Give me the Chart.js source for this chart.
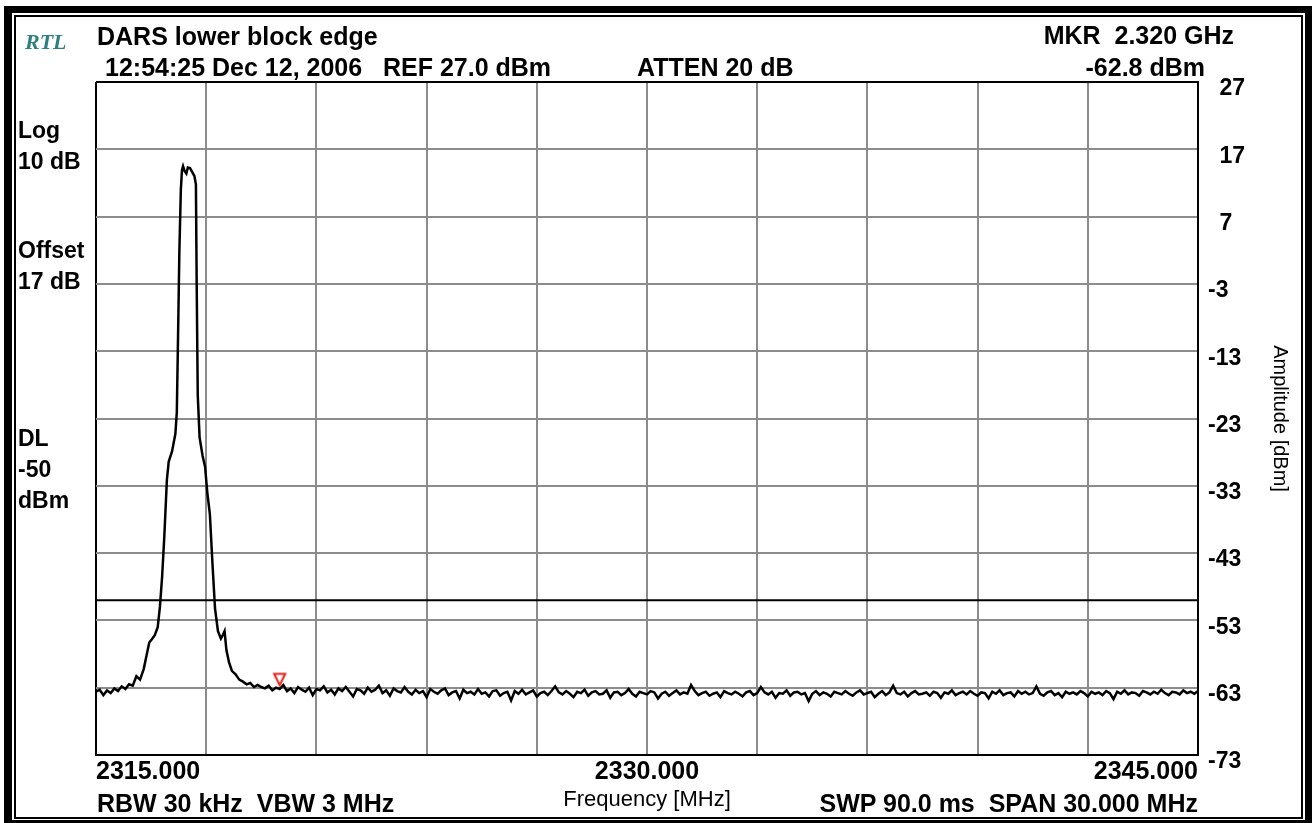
<!DOCTYPE html>
<html>
<head>
<meta charset="utf-8">
<title>DARS lower block edge</title>
<script src="https://cdn.jsdelivr.net/npm/chart.js@4.4.1/dist/chart.umd.min.js"></script>
<style>
    body { margin: 0; background: #fff; }
    #wrap {
        position: relative;
        width: 1312px;
        height: 823px;
        overflow: hidden;
        font-family: "Liberation Sans", Arial, sans-serif;
        color: #000;
    }
    #wrap canvas { position: absolute; left: 0; top: 0; }
    .txt {
        position: absolute;
        font-weight: bold;
        font-size: 25px;
        line-height: 25px;
        white-space: pre;
    }
    .side { font-size: 23px; line-height: 23px; left: 18px; }
    .rtl {
        position: absolute;
        left: 25px;
        top: 31px;
        font-family: "Liberation Serif", serif;
        font-style: italic;
        font-weight: bold;
        font-size: 22px;
        line-height: 22px;
        color: #2e7f80;
    }
    .frame { position: absolute; border-style: solid; border-color: #000; pointer-events: none; }
</style>
</head>
<body>
<div id="wrap">
    <canvas id="spectrum" width="1312" height="823"></canvas>

    <div class="rtl">RTL</div>
    <div class="txt" style="left:97px; top:24px;">DARS lower block edge</div>
    <div class="txt" style="left:105px; top:55px;">12:54:25 Dec 12, 2006   REF 27.0 dBm</div>
    <div class="txt" style="left:637px; top:55px;">ATTEN 20 dB</div>
    <div class="txt" style="right:78px; top:23px;">MKR  2.320 GHz</div>
    <div class="txt" style="right:107px; top:55px;">-62.8 dBm</div>

    <div class="txt side" style="top:119px;">Log</div>
    <div class="txt side" style="top:150px;">10 dB</div>
    <div class="txt side" style="top:239px;">Offset</div>
    <div class="txt side" style="top:270px;">17 dB</div>
    <div class="txt side" style="top:427px;">DL</div>
    <div class="txt side" style="top:458px;">-50</div>
    <div class="txt side" style="top:489px;">dBm</div>

    <div class="txt" style="left:97px; top:791px;">RBW 30 kHz  VBW 3 MHz</div>
    <div class="txt" style="right:114px; top:791px;">SWP 90.0 ms  SPAN 30.000 MHz</div>

    <div class="frame" style="left:4px; top:6px; right:0; bottom:0; border-width:7px 7px 3px 8px;"></div>
    <div class="frame" style="left:14px; top:15px; right:9px; bottom:4px; border-width:2px;"></div>
</div>
<script>
// sweep settings
const FREQ_START = 2315;
const FREQ_STOP = 2345;
const FREQ_STEP = 3;
const LEVEL_MIN = -73;
const LEVEL_MAX = 27;
const LEVEL_STEP = 10;
const X_TICK_LABELS = [2315, 2330, 2345];

// carrier region, read point by point (MHz / dBm)
const peakFreq = [
    2315.0, 2315.1, 2315.2, 2315.3, 2315.4, 2315.5, 2315.6, 2315.7, 2315.8, 2315.9,
    2316.0, 2316.1, 2316.2, 2316.3, 2316.38, 2316.45, 2316.52, 2316.6, 2316.68, 2316.74,
    2316.8, 2316.86, 2316.93, 2316.98, 2317.07, 2317.16, 2317.2, 2317.23, 2317.27, 2317.31,
    2317.34, 2317.37, 2317.41, 2317.46, 2317.5, 2317.56, 2317.62, 2317.68, 2317.72, 2317.74,
    2317.77, 2317.82, 2317.9, 2317.97, 2318.03, 2318.1, 2318.17, 2318.24, 2318.32, 2318.4,
    2318.46, 2318.5, 2318.55, 2318.62, 2318.7, 2318.8, 2318.9, 2319.0, 2319.1, 2319.2,
    2319.3, 2319.4
];
const peakLevel = [
    -63.6, -63.3, -64.1, -63.4, -63.8, -63.1, -63.5, -62.8, -63.2, -62.5,
    -62.7, -61.3, -61.8, -60.2, -58.1, -56.3, -55.8, -55.2, -54.0, -51.0,
    -46.5, -40.5, -32.1, -29.4, -27.9, -25.3, -22.1, -12.0, 2.0, 11.0,
    13.9, 14.5, 13.8, 13.4, 14.3, 14.2, 13.6, 13.0, 11.8, -2.5,
    -19.5, -25.8, -28.5, -30.2, -34.0, -37.2, -44.5, -51.2, -54.6, -55.7,
    -55.1, -54.6, -57.4, -59.2, -60.5, -61.0, -61.8, -62.1, -62.5, -62.3,
    -62.9, -62.6
];

// noise floor from 2319.5 MHz in 0.1 MHz steps (dBm)
const FLOOR_START = 2319.5;
const FLOOR_STEP = 0.1;
const floorLevel = [
    -62.9, -63.1, -62.7, -63.4, -63.0, -63.2, -62.6, -63.5, -63.1, -63.8, -62.9, -63.3, -63.6, -63.0, -64.1, -63.2,
    -63.4, -62.8, -63.7, -63.3, -64.0, -63.1, -63.5, -62.9, -63.6, -64.3, -63.2, -63.4, -63.9, -63.0, -63.6, -63.3,
    -62.7, -63.8, -63.4, -64.2, -63.1, -63.5, -63.7, -62.9, -63.6, -64.0, -63.3, -63.8, -63.5, -64.4, -63.2, -63.6,
    -63.9, -63.4, -63.1, -64.1, -63.7, -63.5, -64.6, -63.3, -63.8, -63.6, -64.0, -63.2, -63.9, -63.7, -64.3, -63.5,
    -63.4, -64.2, -63.8, -63.6, -64.9, -63.5, -63.9, -63.3, -64.0, -63.7, -63.4, -64.3, -63.8, -63.6, -64.1, -63.5,
    -62.8, -63.7, -64.0, -63.5, -63.9, -64.4, -63.6, -63.8, -63.3, -64.2, -63.7, -63.5, -64.0, -63.9, -63.4, -64.5,
    -63.7, -63.6, -64.1, -63.8, -63.2, -63.9, -64.3, -63.6, -63.8, -64.0, -63.5, -63.7, -64.6, -63.9, -63.6, -64.2,
    -63.8, -63.4, -64.0, -63.7, -63.9, -62.6, -63.5, -64.1, -63.8, -63.6, -64.2, -63.9, -63.7, -64.4, -63.5, -63.8,
    -64.0, -63.6, -63.9, -64.3, -63.7, -63.5, -64.1, -63.8, -62.9, -63.7, -64.0, -63.6, -64.5, -63.8, -63.9, -63.4,
    -64.2, -63.7, -63.6, -64.0, -63.8, -65.0, -63.9, -63.5, -64.1, -63.7, -63.9, -64.3, -63.6, -63.8, -64.0, -63.5,
    -63.9, -64.2, -63.7, -63.4, -64.0, -63.8, -63.6, -64.4, -63.9, -63.5, -64.1, -63.7, -62.7, -63.8, -64.0, -63.6,
    -64.3, -63.8, -63.5, -64.0, -63.9, -63.7, -64.2, -63.6, -63.8, -64.5, -63.7, -63.9, -63.4, -64.1, -63.8, -63.6,
    -64.0, -63.5, -63.9, -64.2, -63.7, -63.8, -64.6, -63.6, -63.9, -63.4, -64.1, -63.8, -63.7, -64.3, -63.5, -63.9,
    -63.6, -64.0, -63.8, -62.8, -63.9, -64.2, -63.7, -63.5, -64.1, -63.8, -64.4, -63.6, -63.9, -63.7, -64.0, -63.5,
    -63.8, -64.3, -63.6, -63.9, -63.7, -64.1, -63.5, -63.8, -64.7, -63.6, -63.9, -63.4, -64.0, -63.7, -63.8, -64.2,
    -63.5, -63.7, -64.0, -63.6, -63.9, -63.3, -63.8, -64.1, -63.6, -63.7, -64.0, -63.4, -63.8, -63.6, -63.9, -63.5
];

const DISPLAY_LINE = -50;
const MARKER_FREQ = 2320;
const MARKER_LEVEL = -62.8;

const GRID_GREY = "#8c8c8c";

const traceData = [];
for (let i = 0; i < peakFreq.length; i++) {
    traceData.push({ x: peakFreq[i], y: peakLevel[i] });
}
for (let i = 0; i < floorLevel.length; i++) {
    traceData.push({ x: +(FLOOR_START + i * FLOOR_STEP).toFixed(2), y: floorLevel[i] });
}

// red marker triangle, tip sits on the point
function markerImage() {
    const c = document.createElement("canvas");
    c.width = 16;
    c.height = 30;
    const ctx = c.getContext("2d");
    ctx.beginPath();
    ctx.moveTo(2.5, 2.5);
    ctx.lineTo(13.5, 2.5);
    ctx.lineTo(8, 14);
    ctx.closePath();
    ctx.fillStyle = "#fff";
    ctx.fill();
    ctx.lineWidth = 2;
    ctx.strokeStyle = "#e8201a";
    ctx.stroke();
    return c;
}

function edgeColor(scaleMin, scaleMax) {
    return function (context) {
        const v = context.tick.value;
        if (v === scaleMin || v === scaleMax) {
            return "#000000";
        }
        return GRID_GREY;
    };
}

new Chart(document.getElementById("spectrum"), {
    type: "line",
    data: {
        datasets: [
            {
                label: "Marker",
                data: [{ x: MARKER_FREQ, y: MARKER_LEVEL }],
                showLine: false,
                pointStyle: markerImage(),
                pointRadius: 8,
                order: 0,
            },
            {
                label: "Trace",
                data: traceData,
                borderColor: "#000",
                borderWidth: 2.5,
                pointRadius: 0,
                tension: 0,
                fill: false,
                order: 1,
            },
            {
                label: "DL",
                data: [
                    { x: FREQ_START, y: DISPLAY_LINE },
                    { x: FREQ_STOP, y: DISPLAY_LINE },
                ],
                borderColor: "#000",
                borderWidth: 2,
                pointRadius: 0,
                order: 2,
            },
        ],
    },
    options: {
        responsive: false,
        animation: false,
        layout: {
            padding: { left: 96, top: 82, right: 0, bottom: 0 },
        },
        plugins: {
            legend: { display: false },
            tooltip: { enabled: false },
        },
        scales: {
            x: {
                type: "linear",
                position: "bottom",
                min: FREQ_START,
                max: FREQ_STOP,
                afterFit: function (scale) {
                    scale.height = 68;
                },
                grid: {
                    color: edgeColor(FREQ_START, FREQ_STOP),
                    lineWidth: 2,
                    drawTicks: false,
                },
                border: { display: true, color: "#000", width: 2 },
                ticks: {
                    stepSize: FREQ_STEP,
                    autoSkip: false,
                    maxRotation: 0,
                    align: "inner",
                    padding: 2,
                    color: "#000",
                    font: { family: "'Liberation Sans', Arial, sans-serif", size: 25, weight: "bold" },
                    callback: function (value) {
                        if (X_TICK_LABELS.includes(value)) {
                            return value.toFixed(3);
                        }
                        return "";
                    },
                },
                title: {
                    display: true,
                    text: "Frequency [MHz]",
                    color: "#000",
                    padding: { top: 0, bottom: 10 },
                    font: { family: "'Liberation Sans', Arial, sans-serif", size: 22 },
                },
            },
            y: {
                type: "linear",
                position: "right",
                min: LEVEL_MIN,
                max: LEVEL_MAX,
                afterFit: function (scale) {
                    scale.width = 114;
                },
                grid: {
                    color: edgeColor(LEVEL_MIN, LEVEL_MAX),
                    lineWidth: 2,
                    drawTicks: false,
                },
                border: { display: true, color: "#000", width: 2 },
                ticks: {
                    stepSize: LEVEL_STEP,
                    crossAlign: "near",
                    padding: 10,
                    labelOffset: 7,
                    color: "#000",
                    font: { family: "'Liberation Sans', Arial, sans-serif", size: 23, weight: "bold" },
                    callback: function (value) {
                        return value < 0 ? String(value) : "\u2002" + value;
                    },
                },
                title: {
                    display: true,
                    text: "Amplitude [dBm]",
                    color: "#000",
                    padding: { top: 20, bottom: 0 },
                    font: { family: "'Liberation Sans', Arial, sans-serif", size: 20 },
                },
            },
        },
    },
});
</script>
</body>
</html>
